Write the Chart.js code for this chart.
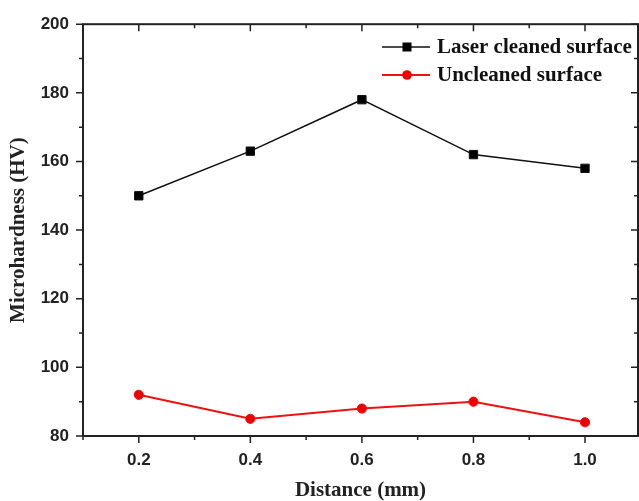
<!DOCTYPE html>
<html>
<head>
<meta charset="utf-8">
<script src="https://cdn.jsdelivr.net/npm/chart.js@4.4.0/dist/chart.umd.min.js"></script>
<style>
  html, body { margin: 0; padding: 0; background: #fff; overflow: hidden; }
  canvas { display: block; }
</style>
</head>
<body>
<canvas id="chart" width="639" height="501"></canvas>
<script>
// Data
const distances = [0.2, 0.4, 0.6, 0.8, 1.0];
const laserCleaned = [150, 163, 178, 162, 158];
const uncleaned = [92, 85, 88, 90, 84];

const xMajorTicks = [0.2, 0.4, 0.6, 0.8, 1.0];
const xMinorTicks = [0.1, 0.3, 0.5, 0.7, 0.9];
const yMajorTicks = [80, 100, 120, 140, 160, 180, 200];
const yMinorTicks = [90, 110, 130, 150, 170, 190];

const seriesNames = ['Laser cleaned surface', 'Uncleaned surface'];

const toPoints = vals => distances.map((d, i) => ({ x: d, y: vals[i] }));

// Frame box + tick marks (outward on bottom/left, inward on top/right)
const frameTicks = {
    id: 'frameTicks',
    afterDraw(chart) {
        const { ctx, chartArea: a, scales } = chart;
        const xs = scales.x, ys = scales.y;
        ctx.save();
        ctx.strokeStyle = '#222';
        ctx.lineWidth = 1.5;
        ctx.beginPath();
        const tick = (list, len) => {
            list.forEach(v => {
                const px = xs.getPixelForValue(v);
                ctx.moveTo(px, a.bottom); ctx.lineTo(px, a.bottom + len);
                ctx.moveTo(px, a.top); ctx.lineTo(px, a.top + len);
            });
        };
        tick(xMajorTicks, 7);
        tick(xMinorTicks, 4);
        const ytick = (list, len) => {
            list.forEach(v => {
                const py = ys.getPixelForValue(v);
                ctx.moveTo(a.left, py); ctx.lineTo(a.left - len, py);
                ctx.moveTo(a.right, py); ctx.lineTo(a.right - len, py);
            });
        };
        ytick(yMajorTicks, 7);
        ytick(yMinorTicks, 4);
        ctx.stroke();
        ctx.lineWidth = 2;
        ctx.strokeRect(a.left, a.top, a.right - a.left, a.bottom - a.top);
        ctx.restore();
    }
};

// Legend in the top right corner, line + marker + text
const lineLegend = {
    id: 'lineLegend',
    afterDatasetsDraw(chart) {
        const ctx = chart.ctx;
        const rows = [47, 75];
        ctx.save();
        chart.data.datasets.forEach((ds, i) => {
            const y = rows[i];
            ctx.strokeStyle = ds.borderColor;
            ctx.lineWidth = ds.borderWidth;
            ctx.beginPath();
            ctx.moveTo(382, y); ctx.lineTo(430, y);
            ctx.stroke();
            ctx.fillStyle = ds.backgroundColor;
            if (ds.pointStyle === 'rect') {
                ctx.fillRect(402.5, y - 4.5, 9, 9);
            } else {
                ctx.beginPath();
                ctx.arc(407, y, 4.8, 0, Math.PI * 2);
                ctx.fill();
            }
            ctx.fillStyle = '#111';
            ctx.font = 'bold 21px "Liberation Serif", "Times New Roman", serif';
            ctx.textBaseline = 'middle';
            ctx.fillText(ds.label, 437, y + 1);
        });
        ctx.restore();
    }
};

new Chart(document.getElementById('chart'), {
    type: 'line',
    data: {
        datasets: [
            {
                label: seriesNames[0],
                data: toPoints(laserCleaned),
                borderColor: '#111',
                backgroundColor: '#000',
                borderWidth: 1.5,
                pointStyle: 'rect',
                pointRadius: 5.9,
                pointHoverRadius: 5.9,
                pointBorderWidth: 1
            },
            {
                label: seriesNames[1],
                data: toPoints(uncleaned),
                borderColor: '#ee1111',
                backgroundColor: '#ee0000',
                borderWidth: 2,
                pointStyle: 'circle',
                pointRadius: 4.6,
                pointHoverRadius: 4.6,
                pointBorderWidth: 1
            }
        ]
    },
    options: {
        responsive: false,
        animation: false,
        layout: { autoPadding: false, padding: { top: 22, right: 1, left: 0, bottom: 0 } },
        plugins: {
            legend: { display: false },
            tooltip: { enabled: false }
        },
        scales: {
            x: {
                type: 'linear',
                min: 0.1,
                max: 1.095,
                afterBuildTicks: s => { s.ticks = xMajorTicks.map(v => ({ value: v })); },
                afterFit: s => { s.height = 65; s.paddingLeft = 0; s.paddingRight = 0; },
                grid: { display: false, drawTicks: false },
                border: { display: false },
                ticks: {
                    padding: 14,
                    color: '#222',
                    font: { family: '"Liberation Sans", Arial, sans-serif', size: 17, weight: 'bold' },
                    callback: v => Number(v).toFixed(1)
                },
                title: {
                    display: true,
                    text: 'Distance (mm)',
                    color: '#222',
                    padding: { top: 0, bottom: 0 },
                    font: { family: '"Liberation Serif", "Times New Roman", serif', size: 21, weight: 'bold', lineHeight: 1 }
                }
            },
            y: {
                min: 80,
                max: 200,
                afterBuildTicks: s => { s.ticks = yMajorTicks.map(v => ({ value: v })); },
                afterFit: s => { s.width = 83; },
                grid: { display: false, drawTicks: false },
                border: { display: false },
                ticks: {
                    padding: 14,
                    color: '#222',
                    font: { family: '"Liberation Sans", Arial, sans-serif', size: 17, weight: 'bold' }
                },
                title: {
                    display: true,
                    text: 'Microhardness (HV)',
                    color: '#222',
                    padding: { top: 6, bottom: 0 },
                    font: { family: '"Liberation Serif", "Times New Roman", serif', size: 21, weight: 'bold' }
                }
            }
        }
    },
    plugins: [frameTicks, lineLegend]
});
</script>
</body>
</html>
